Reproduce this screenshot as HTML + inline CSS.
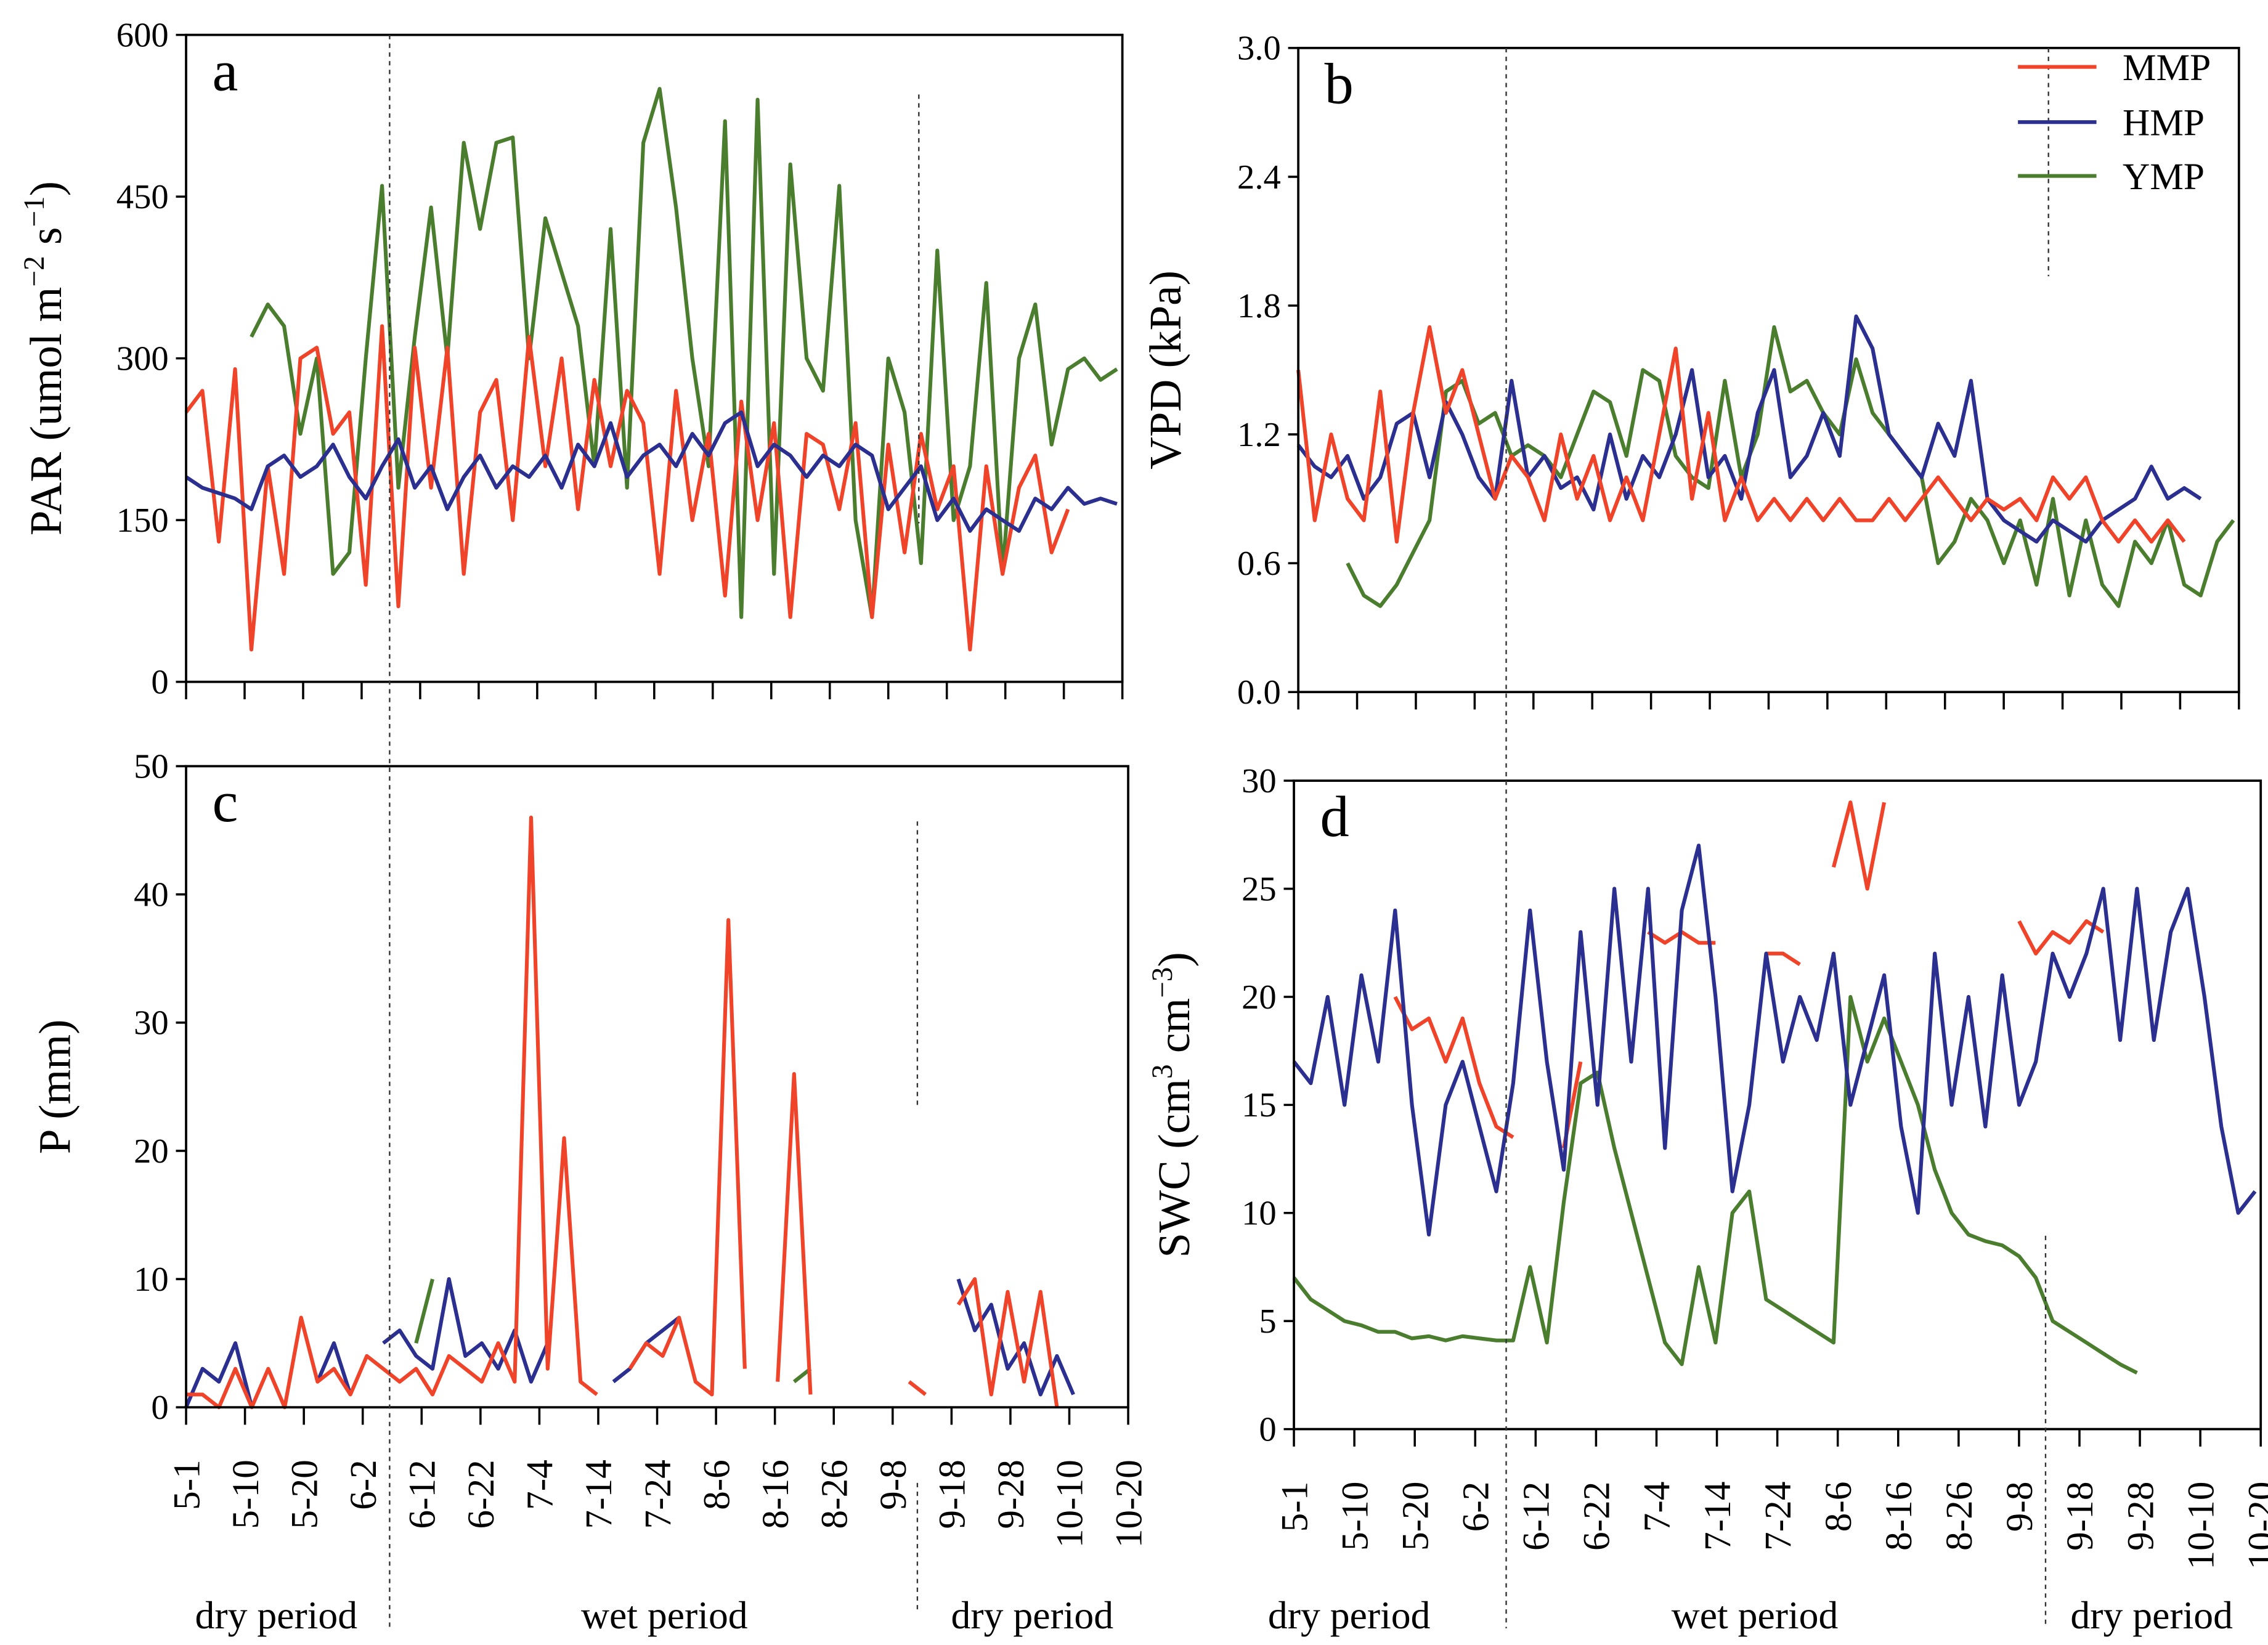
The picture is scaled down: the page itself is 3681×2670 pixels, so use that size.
<!DOCTYPE html>
<html><head><meta charset="utf-8"><style>
html,body{margin:0;padding:0;background:#fff;}
svg{display:block;font-family:"Liberation Serif",serif;}
</style></head><body>
<svg id="fig" width="3681" height="2670" viewBox="0 0 1560 1131.5" preserveAspectRatio="none" xmlns="http://www.w3.org/2000/svg">
<rect width="1560" height="1131.5" fill="#fff"/>
</svg>
<script>
const NS="http://www.w3.org/2000/svg";
const svg=document.getElementById('fig');
const dateLabels=["5-1","5-10","5-20","6-2","6-12","6-22","7-4","7-14","7-24","8-6","8-16","8-26","9-8","9-18","9-28","10-10","10-20"];
const STEP=3;
const N=null;
// Panel a PAR
const aRed=[250,270,130,290,30,200,100,300,310,230,250,90,330,70,310,180,310,100,250,280,150,320,200,300,160,280,200,270,240,100,270,150,230,80,260,150,240,60,230,220,160,240,60,220,120,230,160,200,30,200,100,180,210,120,160,N,N,N];
const aBlue=[190,180,175,170,160,200,210,190,200,220,190,170,200,225,180,200,160,190,210,180,200,190,210,180,220,200,240,190,210,220,200,230,210,240,250,200,220,210,190,210,200,220,210,160,180,200,150,170,140,160,150,140,170,160,180,165,170,165];
const aGreen=[N,N,N,N,320,350,330,230,300,100,120,300,460,180,320,440,300,500,420,500,505,300,430,380,330,200,420,180,500,550,440,300,200,520,60,540,100,480,300,270,460,150,60,300,250,110,400,150,200,370,100,300,350,220,290,300,280,290];
// Panel b VPD
const bRed=[1.5,0.8,1.2,0.9,0.8,1.4,0.7,1.3,1.7,1.3,1.5,1.2,0.9,1.1,1.0,0.8,1.2,0.9,1.1,0.8,1.0,0.8,1.2,1.6,0.9,1.3,0.8,1.0,0.8,0.9,0.8,0.9,0.8,0.9,0.8,0.8,0.9,0.8,0.9,1.0,0.9,0.8,0.9,0.85,0.9,0.8,1.0,0.9,1.0,0.8,0.7,0.8,0.7,0.8,0.7,N,N,N];
const bBlue=[1.15,1.05,1.0,1.1,0.9,1.0,1.25,1.3,1.0,1.35,1.2,1.0,0.9,1.45,1.0,1.1,0.95,1.0,0.85,1.2,0.9,1.1,1.0,1.2,1.5,1.0,1.1,0.9,1.3,1.5,1.0,1.1,1.3,1.1,1.75,1.6,1.2,1.1,1.0,1.25,1.1,1.45,0.9,0.8,0.75,0.7,0.8,0.75,0.7,0.8,0.85,0.9,1.05,0.9,0.95,0.9,N,N];
const bGreen=[N,N,N,0.6,0.45,0.4,0.5,0.65,0.8,1.4,1.45,1.25,1.3,1.1,1.15,1.1,1.0,1.2,1.4,1.35,1.1,1.5,1.45,1.1,1.0,0.95,1.45,1.0,1.2,1.7,1.4,1.45,1.3,1.2,1.55,1.3,1.2,1.1,1.0,0.6,0.7,0.9,0.8,0.6,0.8,0.5,0.9,0.45,0.8,0.5,0.4,0.7,0.6,0.8,0.5,0.45,0.7,0.8];
// Panel c precipitation
const cRed=[1,1,0,3,0,3,0,7,2,3,1,4,3,2,3,1,4,3,2,5,2,46,3,21,2,1,N,3,5,4,7,2,1,38,3,N,2,26,1,N,N,N,N,N,2,1,N,8,10,1,9,2,9,0,N,N,N,N];
const cBlue=[0,3,2,5,0,N,N,N,2,5,1,N,5,6,4,3,10,4,5,3,6,2,5,N,4,N,2,3,5,6,7,N,N,N,N,N,N,3,N,5,N,N,6,N,N,N,N,10,6,8,3,5,1,4,1,N,N,N];
const cGreen=[N,N,N,N,N,N,N,N,N,N,N,N,N,N,5,10,N,N,N,N,N,N,N,N,N,N,N,N,N,N,N,N,N,N,N,N,N,2,3,N,N,N,N,N,N,N,N,N,N,N,N,N,N,N,N,N,N,N];
// Panel d SWC
const dRed=[N,N,N,N,N,N,20,18.5,19,17,19,16,14,13.5,N,N,13,17,N,N,N,23,22.5,23,22.5,22.5,N,N,22,22,21.5,N,26,29,25,29,N,N,N,N,N,N,N,23.5,22,23,22.5,23.5,23,N,N,N,N,N,N,N,N,N];
const dBlue=[17,16,20,15,21,17,24,15,9,15,17,14,11,16,24,17,12,23,15,25,17,25,13,24,27,20,11,15,22,17,20,18,22,15,18,21,14,10,22,15,20,14,21,15,17,22,20,22,25,18,25,18,23,25,20,14,10,11];
const dGreen=[7,6,5.5,5,4.8,4.5,4.5,4.2,4.3,4.1,4.3,4.2,4.1,4.1,7.5,4,10.5,16,16.5,13,10,7,4,3,7.5,4,10,11,6,5.5,5,4.5,4,20,17,19,17,15,12,10,9,8.7,8.5,8,7,5,4.5,4,3.5,3,2.6,N,N,N,N,N,N,N];

const RED="#f0442a",BLUE="#2b2f8f",GREEN="#4b7d2e";
function el(tag,attrs,parent){const e=document.createElementNS(NS,tag);for(const k in attrs)e.setAttribute(k,attrs[k]);(parent||svg).appendChild(e);return e;}

function panel(p){
  const g=el('g',{});
  
  
  const xs=d=>p.x0+(p.x1-p.x0)*d/172;
  const ys=v=>p.y1-(p.y1-p.y0)*(v-p.vmin)/(p.vmax-p.vmin);
  p.series.forEach(s=>{
    let d="",pen=false;
    s.vals.forEach((v,i)=>{
      if(v===null){pen=false;return;}
      const x=xs(i*STEP),y=ys(v);
      d+=(pen?"L":"M")+x.toFixed(1)+" "+y.toFixed(1);pen=true;
    });
    const path=el('path',{d:d,fill:'none',stroke:s.color,'stroke-width':2.6,'stroke-linejoin':'round'},g);
    
    
  });
  const fr=el('rect',{x:p.x0,y:p.y0,width:p.x1-p.x0,height:p.y1-p.y0,fill:'none',stroke:'#000','stroke-width':1.6},g);
  
  
  p.yticks.forEach(t=>{
    const y=ys(t);
    el('line',{x1:p.x0-7,x2:p.x0,y1:y,y2:y,stroke:'#000','stroke-width':1.5},g);
    const tx=el('text',{x:p.x0-12,y:y+8,'font-size':24,'text-anchor':'end'},g);
    tx.textContent=p.fmt(t);
    
    
  });
  dateLabels.forEach((lab,i)=>{
    const x=p.x0+(p.x1-p.x0)*i/16;
    el('line',{x1:x,x2:x,y1:p.y1,y2:p.y1+12,stroke:'#000','stroke-width':1.5},g);
    if(p.xlabels){
      const tx=el('text',{x:0,y:0,'font-size':26,'text-anchor':'end',transform:`translate(${x+9},${p.y1+36}) rotate(-90)`},g);
      tx.textContent=lab;
      
      
    }
  });
  const lt=el('text',{x:p.x0+18,y:p.y0+38,'font-size':40},g);
  lt.textContent=p.id;
  
  
  const yt=el('text',{x:0,y:0,'font-size':31,'text-anchor':'middle',transform:`translate(${p.ytx},${(p.y0+p.y1)/2}) rotate(-90)`},g);
  yt.innerHTML=p.ytitle;
  
  
}

panel({id:'a',x0:128,x1:772,y0:24,y1:469,vmin:0,vmax:600,yticks:[0,150,300,450,600],fmt:v=>v,xlabels:false,
  ytx:42,ytitle:'PAR (umol m<tspan dy="-12" font-size="20">−2</tspan><tspan dy="12"> s</tspan><tspan dy="-12" font-size="20">−1</tspan><tspan dy="12">)</tspan>',
  series:[{name:'YMP',vals:aGreen,color:GREEN},{name:'MMP',vals:aRed,color:RED},{name:'HMP',vals:aBlue,color:BLUE}]});
panel({id:'b',x0:893,x1:1540,y0:33,y1:476,vmin:0,vmax:3,yticks:[0,0.6,1.2,1.8,2.4,3.0],fmt:v=>v.toFixed(1),xlabels:false,
  ytx:812,ytitle:'VPD (kPa)',
  series:[{name:'YMP',vals:bGreen,color:GREEN},{name:'HMP',vals:bBlue,color:BLUE},{name:'MMP',vals:bRed,color:RED}]});
panel({id:'c',x0:128,x1:776,y0:527,y1:968,vmin:0,vmax:50,yticks:[0,10,20,30,40,50],fmt:v=>v,xlabels:true,
  ytx:48,ytitle:'P  (mm)',
  series:[{name:'YMP',vals:cGreen,color:GREEN},{name:'HMP',vals:cBlue,color:BLUE},{name:'MMP',vals:cRed,color:RED}]});
panel({id:'d',x0:890,x1:1555,y0:537,y1:983,vmin:0,vmax:30,yticks:[0,5,10,15,20,25,30],fmt:v=>v,xlabels:true,
  ytx:818,ytitle:'SWC  (cm<tspan dy="-12" font-size="20">3</tspan><tspan dy="12"> cm</tspan><tspan dy="-12" font-size="20">−3</tspan><tspan dy="12">)</tspan>',
  series:[{name:'MMP',vals:dRed,color:RED},{name:'YMP',vals:dGreen,color:GREEN},{name:'HMP',vals:dBlue,color:BLUE}]});

[[268,24,1120],[632,65,360],[631,565,760],[631,1020,1110],[1036,33,1120],[1409,33,190],[1407,850,1120]].forEach(l=>{
  const ln=el('line',{x1:l[0],x2:l[0],y1:l[1],y2:l[2],stroke:'#333','stroke-width':1,'stroke-dasharray':'3,3'});
  
  
});
[[190,'dry period'],[457,'wet period'],[710,'dry period'],[928,'dry period'],[1207,'wet period'],[1480,'dry period']].forEach(p=>{
  const t=el('text',{x:p[0],y:1120,'font-size':27,'text-anchor':'middle'});
  t.textContent=p[1];
  
  
});
[['MMP',RED,46],['HMP',BLUE,84],['YMP',GREEN,121]].forEach(l=>{
  const g=el('g',{});
  
  
  el('line',{x1:1388,x2:1442,y1:l[2],y2:l[2],stroke:l[1],'stroke-width':2.6},g);
  const t=el('text',{x:1460,y:l[2]+9,'font-size':26},g);
  t.textContent=l[0];
});
</script>
</body></html>
